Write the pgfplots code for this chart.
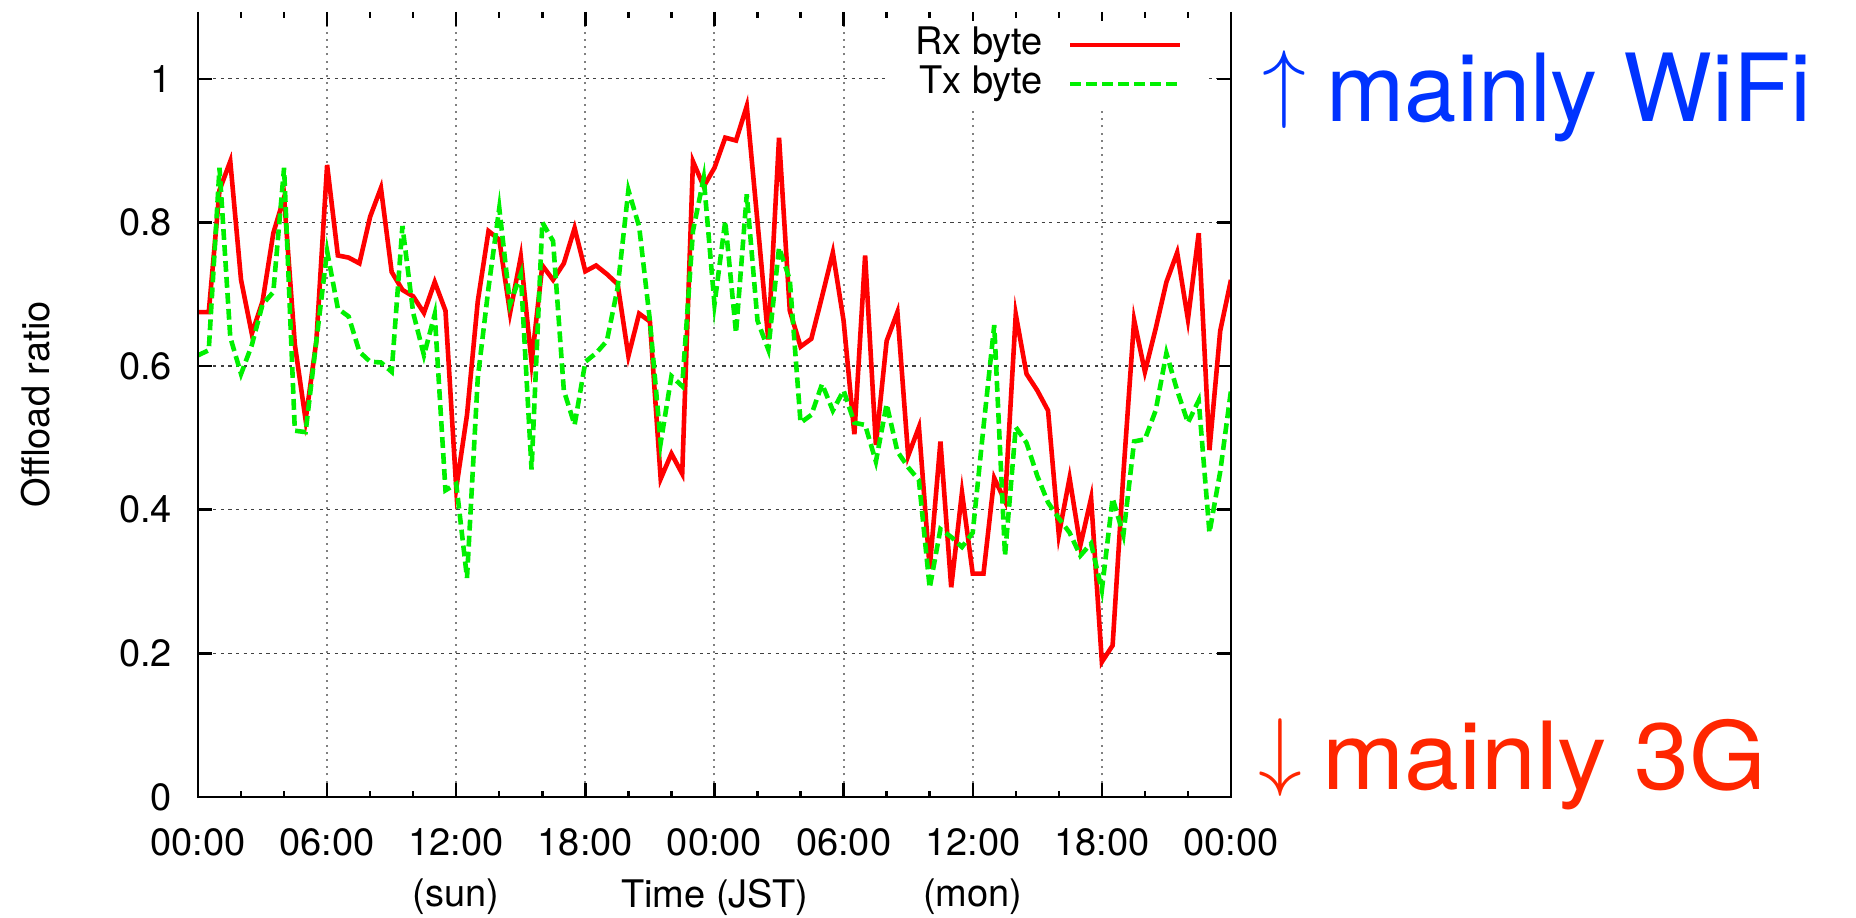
\documentclass[border=0pt]{standalone}
\usepackage{fontspec}
\setmainfont{TeX Gyre Heros}
\usepackage{graphicx}
\usepackage{pgfplots}
\usepackage{pgfplotstable}
\pgfplotsset{compat=1.18}

\definecolor{rxred}{RGB}{255,0,0}
\definecolor{txgreen}{RGB}{0,240,0}
\definecolor{wifiblue}{RGB}{0,51,255}
\definecolor{threegred}{RGB}{255,38,0}

% offload ratio every 30 minutes over two days (t in hours)
\pgfplotstableread{
t    rx    tx
0.0  0.675 0.615
0.5  0.675 0.622
1.0  0.845 0.876
1.5  0.885 0.640
2.0  0.720 0.589
2.5  0.645 0.629
3.0  0.690 0.686
3.5  0.785 0.703
4.0  0.835 0.876
4.5  0.630 0.510
5.0  0.525 0.508
5.5  0.635 0.635
6.0  0.880 0.760
6.5  0.754 0.680
7.0  0.751 0.669
7.5  0.743 0.620
8.0  0.808 0.606
8.5  0.848 0.605
9.0  0.731 0.592
9.5  0.706 0.795
10.0 0.697 0.674
10.5 0.674 0.615
11.0 0.717 0.672
11.5 0.677 0.427
12.0 0.430 0.436
12.5 0.532 0.305
13.0 0.690 0.583
13.5 0.788 0.709
14.0 0.776 0.820
14.5 0.674 0.686
15.0 0.752 0.728
15.5 0.605 0.456
16.0 0.740 0.800
16.5 0.720 0.774
17.0 0.743 0.566
17.5 0.792 0.518
18.0 0.732 0.606
18.5 0.740 0.618
19.0 0.728 0.635
19.5 0.714 0.709
20.0 0.614 0.845
20.5 0.673 0.794
21.0 0.662 0.663
21.5 0.443 0.493
22.0 0.478 0.586
22.5 0.450 0.572
23.0 0.885 0.788
23.5 0.850 0.862
24.0 0.876 0.686
24.5 0.918 0.802
25.0 0.914 0.646
25.5 0.962 0.839
26.0 0.800 0.663
26.5 0.637 0.623
27.0 0.918 0.765
27.5 0.677 0.720
28.0 0.627 0.521
28.5 0.638 0.532
29.0 0.697 0.575
29.5 0.758 0.538
30.0 0.663 0.566
30.5 0.505 0.521
31.0 0.754 0.518
31.5 0.490 0.467
32.0 0.635 0.547
32.5 0.675 0.481
33.0 0.475 0.459
33.5 0.515 0.441
34.0 0.318 0.291
34.5 0.495 0.373
35.0 0.292 0.362
35.5 0.424 0.348
36.0 0.311 0.368
36.5 0.311 0.515
37.0 0.444 0.657
37.5 0.412 0.336
38.0 0.672 0.515
38.5 0.589 0.493
39.0 0.566 0.447
39.5 0.538 0.410
40.0 0.365 0.388
40.5 0.444 0.368
41.0 0.350 0.336
41.5 0.416 0.353
42.0 0.188 0.288
42.5 0.211 0.416
43.0 0.450 0.365
43.5 0.664 0.495
44.0 0.592 0.498
44.5 0.652 0.538
45.0 0.717 0.618
45.5 0.758 0.566
46.0 0.665 0.521
46.5 0.785 0.552
47.0 0.483 0.368
47.5 0.649 0.453
48.0 0.720 0.566
}\ratio

\newcommand{\lblfont}{\fontsize{9.5}{11}\selectfont}
\newcommand{\notefont}{\fontsize{23.5}{28}\selectfont}

\begin{document}
\begin{tikzpicture}[x=1pt,y=1pt]
\useasboundingbox (0,0) rectangle (464,229.5);
\begin{axis}[
  at={(49.5pt,30.25pt)}, anchor=south west,
  scale only axis, width=258.25pt, height=196.25pt,
  xmin=0, xmax=48, ymin=0, ymax=1.093,
  xtick={0,6,...,48},
  xticklabels={00:00,06:00,12:00,18:00,00:00,06:00,12:00,18:00,00:00},
  minor xtick={2,4,8,10,14,16,20,22,26,28,32,34,38,40,44,46},
  ytick={0,0.2,0.4,0.6,0.8,1},
  yticklabels={0,0.2,0.4,0.6,0.8,1},
  tick align=inside,
  major tick length=3.5pt, minor tick length=1.6pt,
  tick style={black, line width=0.6pt},
  axis line style={draw=none},
  xmajorgrids, ymajorgrids,
  x grid style={gray, line width=0.5pt, dash pattern=on 0.5pt off 1.3pt},
  y grid style={black!75, line width=0.35pt, dash pattern=on 0.8pt off 1.1pt},
  ticklabel style={font=\lblfont},
  xticklabel style={yshift=-4.3pt},
  yticklabel style={xshift=-3pt},
  ylabel={Offload ratio},
  ylabel style={at={(axis description cs:-0.157,0.5)}, anchor=center, font=\lblfont},
  xlabel={Time (JST)},
  xlabel style={at={(axis description cs:0.5,0)}, anchor=center, yshift=-25pt, font=\lblfont},
  legend plot pos=right,
  legend cell align=right,
  legend image code/.code={\draw[#1] (0pt,0pt) -- (27.5pt,0pt);},
  legend style={draw=none, fill=white, at={(0.977,0.989)}, anchor=north east,
    font=\lblfont, inner xsep=6pt, inner ysep=1pt, column sep=5.5pt,
    nodes={inner sep=0.75pt, text height=6.5pt, text depth=1.75pt}},
]
\addplot[rxred, line width=1.15pt] table[x=t, y=rx] {\ratio};
\addlegendentry{Rx byte}
\addplot[txgreen, line width=1.15pt, dash pattern=on 2.7pt off 1.3pt] table[x=t, y=tx] {\ratio};
\addlegendentry{Tx byte}
\coordinate (sun) at (axis cs:12,0);
\coordinate (mon) at (axis cs:36,0);
\end{axis}
% border on three sides
\draw[black, line width=0.7pt] (49.5,226.5) -- (49.5,30.25) -- (307.75,30.25) -- (307.75,226.5);
\node[font=\lblfont, anchor=center] at ([yshift=-25pt]sun) {(sun)};
\node[font=\lblfont, anchor=center] at ([yshift=-25pt]mon) {(mon)};
% interpretation of the ratio
\node[anchor=base west, inner sep=0pt, text=wifiblue, font=\notefont]
  at (315.5,199) {\raisebox{2.5pt}{\scalebox{0.88}{$\uparrow$}}\hspace{5pt}mainly WiFi};
\node[anchor=base west, inner sep=0pt, text=threegred, font=\notefont]
  at (314.5,32) {\raisebox{2.5pt}{\scalebox{0.88}{$\downarrow$}}\hspace{5pt}\scalebox{1.05}[1]{mainly 3G}};
\end{tikzpicture}
\end{document}
